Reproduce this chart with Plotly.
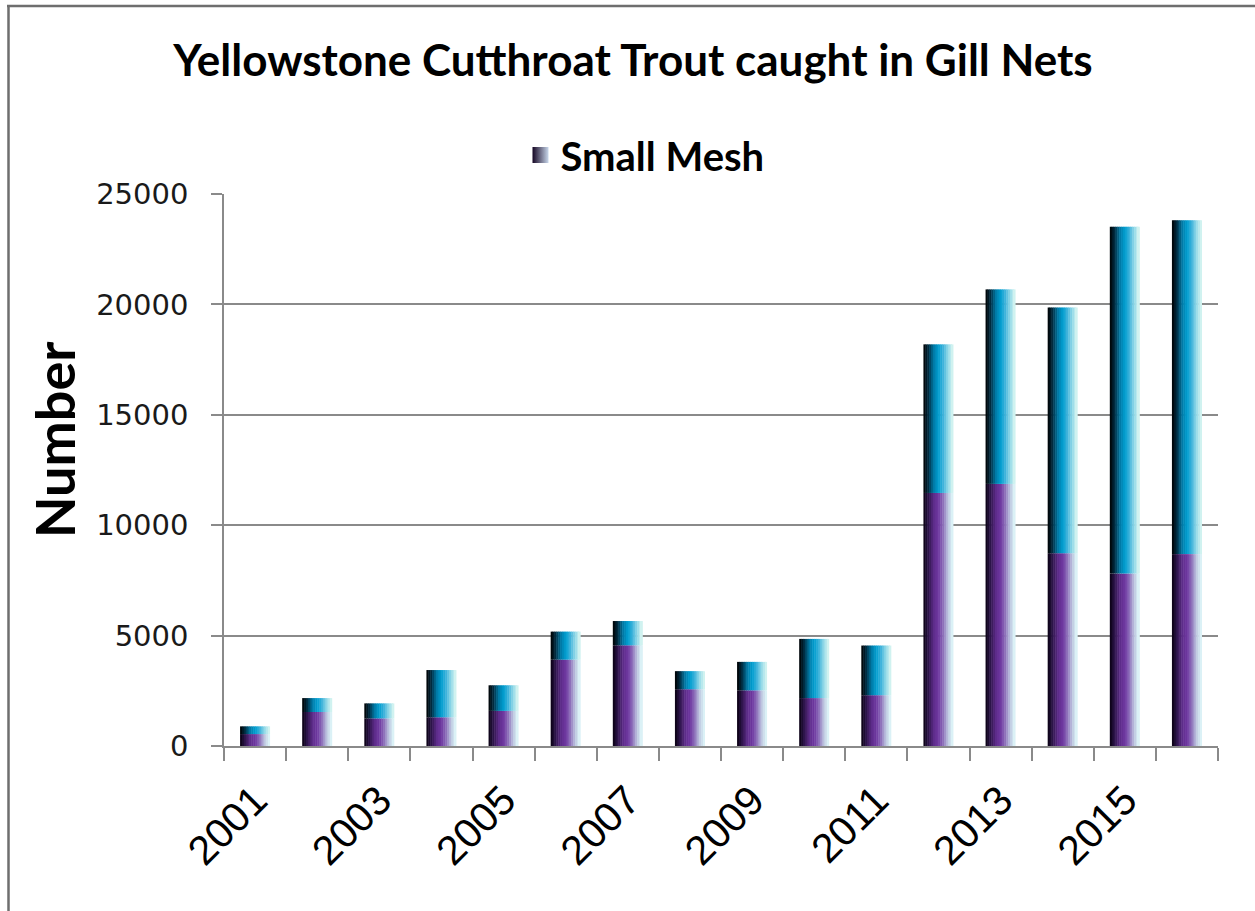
import plotly.graph_objects as go

# ---- data ----
years = list(range(2001, 2017))
small_mesh = [540, 1540, 1250, 1300, 1590, 3910, 4560, 2570, 2520, 2170, 2300,
              11460, 11870, 8730, 7810, 8690]
large_mesh = [350, 630, 680, 2140, 1160, 1270, 1100, 820, 1290, 2680, 2250,
              6730, 8810, 11130, 15710, 15120]
x_tick_years = [2001, 2003, 2005, 2007, 2009, 2011, 2013, 2015]
y_ticks = [0, 5000, 10000, 15000, 20000, 25000]

# ---- styling ----
W, H = 1255, 911
ML, MR, MT, MB = 224, 37, 194, 165
PW, PH = W - ML - MR, H - MT - MB

purple_stops = [(0.0, (8, 0, 16)), (0.12, (35, 15, 60)), (0.35, (95, 45, 140)),
                (0.5, (110, 55, 160)), (0.65, (140, 110, 185)), (0.82, (190, 200, 225)),
                (1.0, (225, 250, 250))]
blue_stops = [(0.0, (0, 0, 0)), (0.15, (0, 40, 60)), (0.35, (0, 125, 170)),
              (0.5, (0, 158, 208)), (0.65, (60, 178, 218)), (0.82, (150, 218, 232)),
              (1.0, (220, 247, 242))]


def interp(stops, t):
    for (p0, c0), (p1, c1) in zip(stops[:-1], stops[1:]):
        if p0 <= t <= p1:
            f = (t - p0) / (p1 - p0) if p1 > p0 else 0
            c = [round(a + (b - a) * f) for a, b in zip(c0, c1)]
            return f"rgb({c[0]},{c[1]},{c[2]})"
    c = stops[-1][1]
    return f"rgb({c[0]},{c[1]},{c[2]})"


bar_w = 0.483
N = 16
sw = bar_w / N

fig = go.Figure()
for k in range(N):
    t = (k + 0.5) / N
    off = -bar_w / 2 + k * sw
    w = sw * 1.25 if k < N - 1 else sw
    fig.add_bar(x=years, y=small_mesh, width=w, offset=off,
                marker=dict(color=interp(purple_stops, t), line=dict(width=0), opacity=1),
                name="Small Mesh", legendgroup="small", showlegend=False,
                hovertemplate="%{x}: %{y}<extra>Small Mesh</extra>")
    fig.add_bar(x=years, y=large_mesh, base=small_mesh, width=w, offset=off,
                marker=dict(color=interp(blue_stops, t), line=dict(width=0), opacity=1),
                name="Large Mesh", legendgroup="large", showlegend=False,
                hovertemplate="%{x}: %{y}<extra>Large Mesh</extra>")

# legend key for the Small Mesh series (gradient square)
fig.add_scatter(x=[years[0]], y=[None], mode="markers", name="Small Mesh",
                legendgroup="small", showlegend=True, hoverinfo="skip",
                marker=dict(symbol="square", size=18, color="rgb(20,5,35)",
                            line=dict(width=0),
                            gradient=dict(type="horizontal", color="rgb(200,215,235)")))

grid_col = "#8a8a8a"
fig.update_layout(
    width=W, height=H,
    margin=dict(l=ML, r=MR, t=MT, b=MB),
    barmode="overlay",
    paper_bgcolor="white", plot_bgcolor="white",
    title=dict(text="Yellowstone Cutthroat Trout caught in Gill Nets",
               x=633 / W, xanchor="center", xref="container",
               y=1 - 61 / H, yanchor="middle", yref="container",
               font=dict(family="Lato", size=44, color="black", weight="bold")),
    legend=dict(orientation="h", x=(645 - ML) / PW, xanchor="center",
                y=(H - MB - 155) / PH, yanchor="middle", itemsizing="trace",
                font=dict(family="Lato", size=40, color="black", weight="bold"),
                bgcolor="rgba(0,0,0,0)"),
    xaxis=dict(range=[years[0] - 0.5, years[-1] + 0.5],
               tickmode="array", tickvals=x_tick_years,
               ticktext=[str(y) for y in x_tick_years],
               tickangle=-45, ticks="", showgrid=False, zeroline=False,
               ticklabelstandoff=12,
               tickfont=dict(family="Liberation Sans", size=41, color="black"),
               showline=True, linecolor=grid_col, linewidth=1.5,
               minor=dict(tickmode="array",
                          tickvals=[y - 0.5 for y in years] + [years[-1] + 0.5],
                          ticks="outside", ticklen=13, tickwidth=1.5,
                          tickcolor=grid_col, showgrid=False)),
    yaxis=dict(range=[0, 25000], tickmode="array", tickvals=y_ticks,
               ticktext=[str(v) for v in y_ticks],
               ticks="outside", ticklen=11, tickwidth=1.5, tickcolor=grid_col,
               showgrid=True, gridcolor=grid_col, gridwidth=1.5, zeroline=False,
               showline=True, linecolor=grid_col, linewidth=1.5,
               ticklabelstandoff=17,
               tickfont=dict(family="DejaVu Sans", size=29, color="#1a1a1a")),
    annotations=[dict(text="Number", textangle=-90, xref="paper", yref="paper",
                      x=(54 - ML) / PW, y=(H - MB - 440) / PH,
                      xanchor="center", yanchor="middle", showarrow=False,
                      font=dict(family="Lato", size=54, color="black", weight="bold"))],
    shapes=[
        dict(type="line", xref="paper", yref="paper",
             x0=(7 - ML) / PW, x1=(W - ML) / PW,
             y0=(H - MB - 6) / PH, y1=(H - MB - 6) / PH,
             line=dict(color="#6e6e6e", width=2.5)),
        dict(type="line", xref="paper", yref="paper",
             x0=(8.5 - ML) / PW, x1=(8.5 - ML) / PW,
             y0=(H - MB - 5) / PH, y1=(H - MB - H) / PH,
             line=dict(color="#6e6e6e", width=2.5)),
    ],
)

fig.write_html("out.html")
